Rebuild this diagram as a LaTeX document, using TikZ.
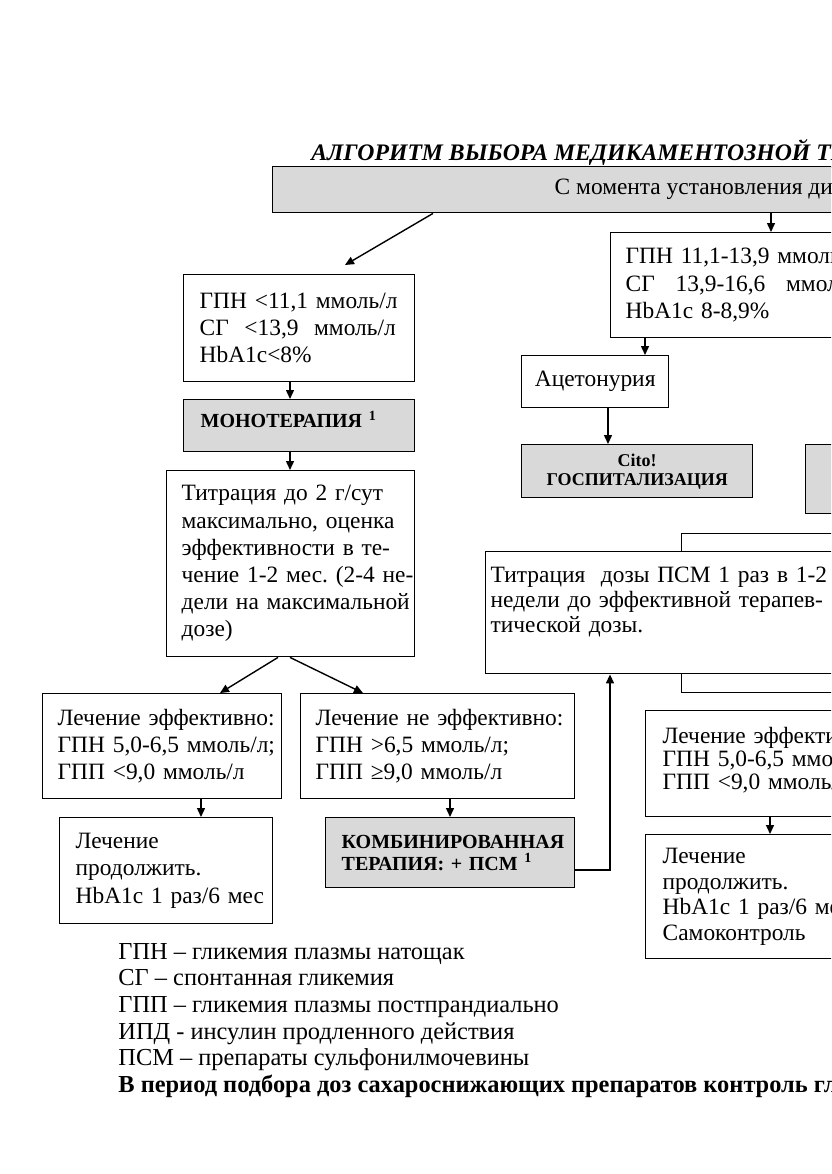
\documentclass[tikz,border=0pt]{standalone}
\usepackage{fontspec}
\setmainfont{Liberation Serif}
\usepackage{tikz}
\usetikzlibrary{arrows.meta,calc}

\definecolor{boxgray}{RGB}{217,217,217}
\frenchspacing

\tikzset{
  box/.style={draw=black, line width=0.7pt, fill=white, anchor=north west,
    inner ysep=0pt, align=left, font=\fontsize{11.7}{13.6}\selectfont},
  graybox/.style={box, fill=boxgray},
  arr/.style={-{Triangle[length=4.5pt,width=4pt]}, line width=0.7pt}
}

\begin{document}
\begin{tikzpicture}[x=0.5pt, y=-0.5pt]

    \useasboundingbox (0,0) rectangle (831,1174);
    \clip (0,0) rectangle (831,1174);

    \node[anchor=base west, inner sep=0pt, font=\fontsize{11.85}{14}\selectfont\bfseries\itshape] (title) at (311,160) {\underline{АЛГОРИТМ ВЫБОРА МЕДИКАМЕНТОЗНОЙ ТЕРАПИИ}};

    \node[graybox, minimum width=453pt, minimum height=23pt, align=center] (start) at (272,166) {С момента установления диагноза};

    % left branch
    \node[box, minimum width=115.5pt, minimum height=53.5pt, inner xsep=8pt, text width=99.5pt] (lcrit) at (183,274) {\mbox{ГПН <11,1 ммоль/л}\\ \makebox[98pt][s]{СГ\hfill <13,9\hfill ммоль/л}\\ HbA1c<8\%};
    \node[graybox, minimum width=115.5pt, minimum height=26pt, inner xsep=8.5pt, text width=98.5pt, font=\fontsize{10}{12}\selectfont\bfseries] (mono) at (183,399) {МОНОТЕРАПИЯ \textsuperscript{1}\rule[-6pt]{0pt}{0pt}};
    \node[box, minimum width=124pt, minimum height=93pt, inner xsep=7.5pt, text width=109pt] (titr) at (166,470) {\mbox{Титрация до 2 г/сут}\\ \mbox{максимально, оценка}\\ \mbox{эффективности в те-}\\ \mbox{чение 1-2 мес. (2-4 не-}\\ \mbox{дели на максимальной}\\ дозе)};
    \node[box, minimum width=119.5pt, minimum height=52.5pt, inner xsep=7.5pt, text width=104.5pt] (leff) at (42,693) {\mbox{Лечение эффективно:}\\ \mbox{ГПН 5,0-6,5 ммоль/л;}\\ \mbox{ГПП <9,0 ммоль/л}};
    \node[box, minimum width=137pt, minimum height=52.5pt, inner xsep=7.5pt, text width=122pt] (lneff) at (300,693) {\mbox{Лечение не эффективно:}\\ \mbox{ГПН >6,5 ммоль/л;}\\ \mbox{ГПП ≥9,0 ммоль/л}};
    \node[box, minimum width=106.5pt, minimum height=53pt, inner xsep=8pt, text width=90.5pt] (cont) at (59,817) {Лечение\\ продолжить.\\ \mbox{HbA1c 1 раз/6 мес}};
    \node[graybox, minimum width=124.5pt, minimum height=35pt, inner xsep=8pt, text width=108.5pt, font=\fontsize{10}{11}\selectfont\bfseries] (comb) at (325,817) {\mbox{КОМБИНИРОВАННАЯ}\\ \mbox{ТЕРАПИЯ: + ПСМ \textsuperscript{1}}};

    % right branch
    \node[box, minimum width=135pt, minimum height=52.5pt, inner xsep=7.5pt, text width=120pt] (rcrit) at (610,232) {\mbox{ГПН 11,1-13,9 ммоль/л}\\ \makebox[121pt][s]{СГ\hfill 13,9-16,6\hfill ммоль/л}\\ HbA1c 8-8,9\%};
    \node[box, minimum width=73.5pt, minimum height=26pt, align=center] (acet) at (521,355) {Ацетонурия};
    \node[graybox, minimum width=115.5pt, minimum height=26.5pt, align=center, font=\fontsize{9}{9.5}\selectfont\bfseries] (cito) at (521,444) {Cito!\\ ГОСПИТАЛИЗАЦИЯ};
    \node[graybox, minimum width=60pt, minimum height=34.5pt] (rgray) at (805,444) {};
    \node[box, minimum width=100pt, minimum height=79.5pt] (psmback) at (681,533) {};
    \node[box, minimum width=200pt, minimum height=61pt, inner xsep=2.5pt, text width=195pt, font=\fontsize{11.7}{12.5}\selectfont] (psm) at (485,551) {\mbox{Титрация\ \ дозы ПСМ 1 раз в 1-2}\\ \mbox{недели до эффективной терапев-}\\ тической дозы.\\ \mbox{}};
    \node[box, minimum width=115pt, minimum height=53pt, inner xsep=8.5pt, text width=98pt, font=\fontsize{11.7}{11.5}\selectfont] (reff) at (645,710) {\mbox{Лечение эффективно:}\\ \mbox{ГПН 5,0-6,5 ммоль/л;}\\ \mbox{ГПП <9,0 ммоль/л}\rule[-5pt]{0pt}{0pt}};
    \node[box, minimum width=115pt, minimum height=62pt, inner xsep=8.5pt, text width=98pt, font=\fontsize{11.7}{12.75}\selectfont] (rcont) at (645,834) {Лечение\\ продолжить.\\ \mbox{HbA1c 1 раз/6 мес}\\ Самоконтроль};

    % legend
    \node[anchor=north west, align=left, inner sep=0pt, font=\fontsize{12.2}{13.3}\selectfont] (legend) at (118,943) {ГПН – гликемия плазмы натощак\\ СГ – спонтанная гликемия\\ ГПП – гликемия плазмы постпрандиально\\ ИПД - инсулин продленного действия\\ ПСМ – препараты сульфонилмочевины\\ \textbf{В период подбора доз сахароснижающих препаратов контроль гликемии}};

    \draw[arr] ($(start.south west)+(161,0)$) -- ($(lcrit.north west)+(162,-9)$);
    \draw[arr] ($(start.south west)+(499,0)$) -- ($(rcrit.north west)+(161,0)$);
    \draw[arr] ($(lcrit.south west)+(107,0)$) -- ($(mono.north west)+(107,0)$);
    \draw[arr] ($(mono.south west)+(107,0)$) -- ($(titr.north west)+(124,0)$);
    \draw[arr] ($(titr.south west)+(112,0)$) -- ($(leff.north west)+(178,0)$);
    \draw[arr] ($(titr.south west)+(124,0)$) -- ($(lneff.north west)+(63,0)$);
    \draw[arr] ($(leff.south west)+(159,0)$) -- ($(cont.north west)+(142,0)$);
    \draw[arr] ($(lneff.south west)+(150,0)$) -- ($(comb.north west)+(125,0)$);
    \draw[arr] ($(comb.north east)+(0,53)$) -| ($(psm.south west)+(125,0)$);
    \draw[arr] ($(rcrit.south west)+(35,0)$) -- ($(acet.north west)+(124,0)$);
    \draw[arr] ($(acet.south west)+(87,0)$) -- ($(cito.north west)+(87,0)$);
    \draw[arr] ($(reff.south west)+(125,0)$) -- ($(rcont.north west)+(125,0)$);

\end{tikzpicture}
\end{document}
